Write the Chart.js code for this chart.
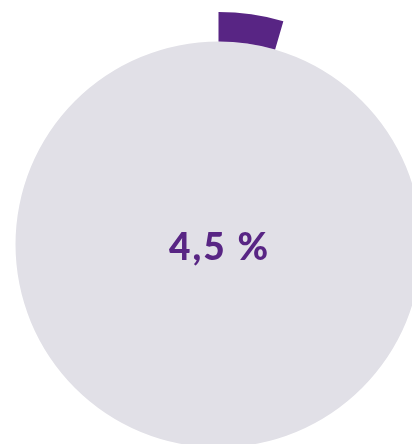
<!DOCTYPE html>
<html>
<head>
<meta charset="utf-8">
<script src="https://cdn.jsdelivr.net/npm/chart.js@4/dist/chart.umd.min.js"></script>
<style>
  html, body { margin: 0; padding: 0; background: #ffffff; overflow: hidden; width: 412px; height: 444px; }
  #wrap { position: absolute; left: -14px; top: 12px; width: 465px; height: 465px; }
</style>
</head>
<body>
<div id="wrap"><canvas id="c" width="465" height="465"></canvas></div>
<script>
// Share shown in the outer ring, and the full base disc underneath
const categories = ['Anteil', 'Rest'];
const shareValues = [4.5, 95.5];
const baseValues = [100];

const PURPLE = '#582584';
const GREY = '#e1e0e7';

const fmt = v => v.toFixed(1).replace('.', ',') + ' %';

const centerLabel = {
  id: 'centerLabel',
  afterDraw(chart) {
    const { ctx } = chart;
    const arc = chart.getDatasetMeta(0).data[0];
    ctx.save();
    ctx.fillStyle = PURPLE;
    ctx.font = '900 37px Lato, "Open Sans", sans-serif';
    if ('letterSpacing' in ctx) ctx.letterSpacing = '2px';
    ctx.textAlign = 'center';
    ctx.textBaseline = 'middle';
    ctx.fillText(fmt(shareValues[0]), arc.x + 1, arc.y + 4);
    ctx.restore();
  }
};

new Chart(document.getElementById('c'), {
  type: 'pie',
  data: {
    labels: categories,
    datasets: [
      {
        data: shareValues,
        backgroundColor: [PURPLE, 'rgba(0,0,0,0)'],
        borderWidth: 0,
        weight: 29.5
      },
      {
        data: baseValues,
        backgroundColor: [GREY],
        borderWidth: 0,
        weight: 203
      }
    ]
  },
  options: {
    responsive: false,
    animation: false,
    layout: { padding: 0 },
    plugins: {
      legend: { display: false },
      tooltip: { enabled: false }
    },
    events: []
  },
  plugins: [centerLabel]
});
</script>
</body>
</html>
